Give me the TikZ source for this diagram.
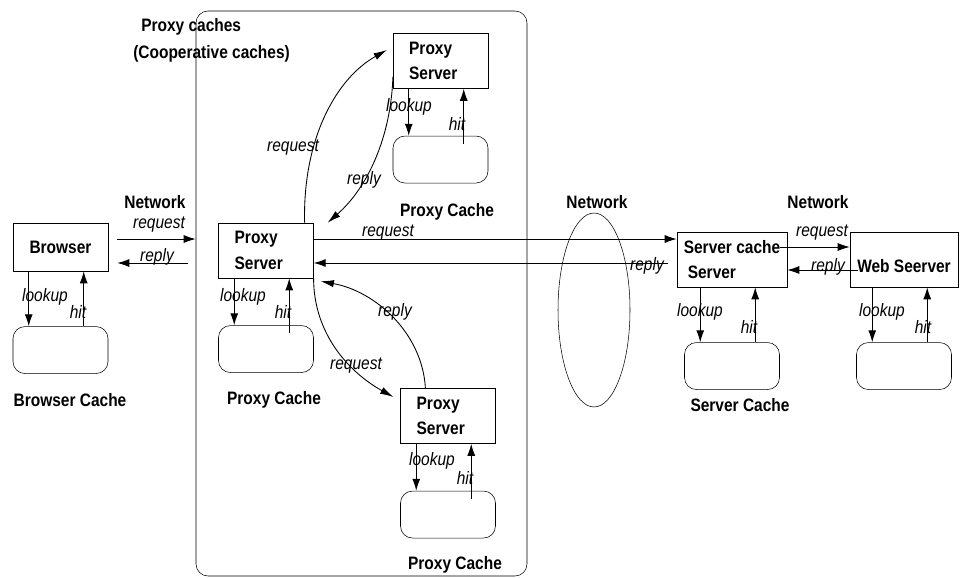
\documentclass[tikz,border=0pt]{standalone}
\usepackage{fontspec}
\setmainfont[FakeStretch=0.86]{Liberation Sans}
\usetikzlibrary{arrows.meta,positioning,calc,shapes.geometric}

\newcommand{\figfont}{\fontsize{13.5}{19}\selectfont}

\begin{document}
\begin{tikzpicture}[
    x=0.75pt,y=-0.75pt,
    font=\figfont,
    server/.style={rectangle,draw,minimum height=41.25pt,align=left,text width=47pt,inner xsep=12pt,inner ysep=0pt,font=\figfont\bfseries},
    endbox/.style={rectangle,draw,minimum height=41.25pt,inner sep=0pt,align=left,font=\figfont\bfseries},
    cachebox/.style={rectangle,draw,rounded corners=9pt,minimum width=71.25pt,minimum height=35.25pt,inner sep=0pt},
    proxyframe/.style={rectangle,draw,rounded corners=9pt,minimum width=248.25pt,minimum height=423.75pt,inner sep=0pt},
    netcloud/.style={ellipse,draw,minimum width=54pt,minimum height=145.5pt,inner sep=0pt},
    flowarrow/.style={-{Latex[length=9pt,width=6pt]},line width=0.75pt},
    curvearrow/.style={-{Latex[length=10pt,width=5.5pt]},line width=0.65pt},
    lbl/.style={font=\figfont\itshape,inner sep=0pt},
    captext/.style={font=\figfont\bfseries,inner sep=0pt}
]
\useasboundingbox (0,0) rectangle (960,578);

% Cooperative proxy area
\node[proxyframe] (pframe) at (361.5,293.5) {};
\node[captext,anchor=west] (title1) at (141,27) {Proxy caches};
\node[captext,anchor=west] (title2) at (133,54) {(Cooperative caches)};

% Browser side
\node[endbox,minimum width=71.25pt,minimum height=36pt,align=center] (brw) at (60.5,247) {Browser};
\node[cachebox,below=41.25pt of brw] (brc) {};
\node[captext] (brcap) at (70,400) {Browser Cache};

% Proxy servers
\node[server] (psrv) at (266,250.5) {Proxy\\Server};
\node[cachebox,below=35.25pt of psrv] (pcc) {};
\node[captext] (pccap) at (274,400) {Proxy Cache};

\node[server] (ptop) at (440.5,61) {Proxy\\Server};
\node[cachebox,below=35.25pt of ptop] (ptc) {};
\node[captext] (ptcap) at (447,212) {Proxy Cache};

\node[server] (pbot) at (448,416) {Proxy\\Server};
\node[cachebox,below=35.25pt of pbot] (pbc) {};
\node[captext] (pbcap) at (455,565) {Proxy Cache};

% Server side
\node[endbox,minimum width=82.5pt] (scs) at (732,259.5) {Server cache\\\hspace{3pt}Server};
\node[cachebox,below=41.25pt of scs] (scc) {};
\node[captext] (sccap) at (740,405) {Server Cache};

\node[endbox,minimum width=81pt,text height=19pt,text depth=0pt] (web) at (904,259.5) {Web Seerver};
\node[cachebox,below=41.25pt of web] (wbc) {};

% Network
\node[netcloud] (net) at (594,310) {};
\node[captext] (net1) at (155,202) {Network};
\node[captext] (net2) at (597,202) {Network};
\node[captext] (net3) at (818,202) {Network};

% lookup / hit
\foreach \s/\c/\d in {brw/brc/0, psrv/pcc/8, ptop/ptc/8, pbot/pbc/8, scs/scc/0, web/wbc/0} {
    \coordinate (\c-lk) at ($(\c.north west)+(16,0)$);
    \coordinate (\c-ht) at ($(\c.north west)+(71,\d)$);
    \draw[flowarrow] (\c-lk |- \s.south) -- (\c-lk);
    \draw[flowarrow] (\c-ht) -- (\c-ht |- \s.south);
}
\node[lbl] (brlk) at (45,297) {lookup};
\node[lbl] (brht) at (78,312) {hit};
\node[lbl] (pclk) at (243,297) {lookup};
\node[lbl] (pcht) at (283,312) {hit};
\node[lbl] (ptlk) at (409,107) {lookup};
\node[lbl] (ptht) at (457,124) {hit};
\node[lbl] (pblk) at (432,461) {lookup};
\node[lbl] (pbht) at (465,478) {hit};
\node[lbl] (sclk) at (700,312) {lookup};
\node[lbl] (scht) at (749,327) {hit};
\node[lbl] (wblk) at (882,312) {lookup};
\node[lbl] (wbht) at (923,327) {hit};

% Browser <-> proxy
\draw[flowarrow] ($(brw.east)+(9,-8)$) -- ($(brw.east -| pframe.west)+(0,-8)$);
\draw[flowarrow] ($(brw.east -| pframe.west)+(-8,16)$) -- ($(brw.east)+(9,16)$);
\node[lbl] (brreq) at (159,225) {request};
\node[lbl] (brrep) at (157,257) {reply};

% Proxy <-> server cache
\draw[flowarrow] ($(psrv.east)+(0,-11.5)$) -- ($(scs.west)+(0,-20.5)$);
\draw[flowarrow] ($(scs.west)+(-9,3.5)$) -- ($(psrv.east)+(0,12.5)$);
\node[lbl] (lgreq) at (388,233) {request};
\node[lbl] (lgrep) at (647,266) {reply};

% Server cache <-> web server
\draw[flowarrow] ($(scs.east)+(-7,-12.5)$) -- ($(web.west)+(0,-12.5)$);
\draw[flowarrow] ($(web.west)+(8,10.5)$) -- ($(scs.east)+(0,10.5)$);
\node[lbl] (wbreq) at (822,233) {request};
\node[lbl] (wbrep) at (828,267) {reply};

% Cooperative requests
\draw[curvearrow] ($(psrv.north east)+(-9,0)$) .. controls +(-2,-85) and +(-50,28) .. ($(ptop.west)+(-6,-11)$);
\draw[curvearrow] ($(ptop.west)+(0,16)$) .. controls +(-2,60) and +(40,-35) .. ($(psrv.north east)+(14,0)$);
\draw[curvearrow] ($(pbot.north west)+(25,0)$) .. controls +(-3,-55) and +(55,10) .. ($(psrv.south east)+(7,3)$);
\draw[curvearrow] (psrv.south east) .. controls +(0,55) and +(-45,-25) .. ($(pbot.west)+(-7,-19)$);
\node[lbl] (tpreq) at (293,148) {request};
\node[lbl] (tprep) at (364,180) {reply};
\node[lbl] (btrep) at (395,312) {reply};
\node[lbl] (btreq) at (356,366) {request};

\end{tikzpicture}
\end{document}
